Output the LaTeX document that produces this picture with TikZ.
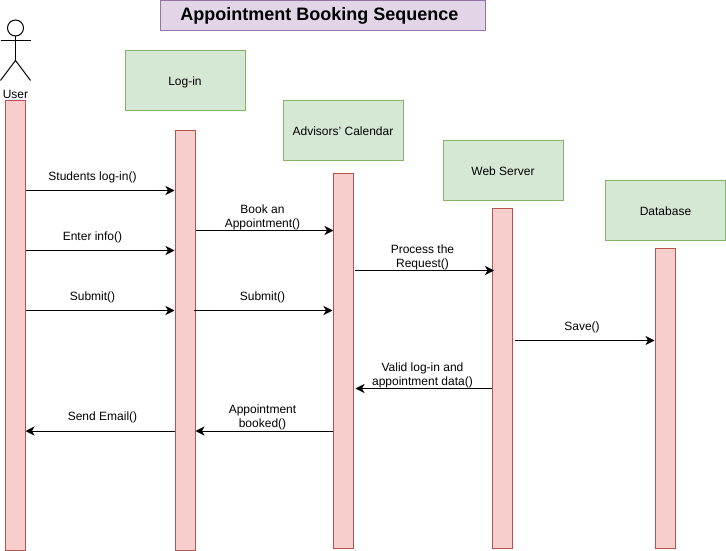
\documentclass[tikz,border=0pt]{standalone}
\usepackage{fontspec}
\setmainfont{Liberation Sans}
\usetikzlibrary{arrows.meta}
\definecolor{boxGreen}{HTML}{D5E8D4}
\definecolor{lineGreen}{HTML}{82B366}
\definecolor{boxRed}{HTML}{F8CECC}
\definecolor{lineRed}{HTML}{B85450}
\definecolor{boxPurple}{HTML}{E1D5E7}
\definecolor{linePurple}{HTML}{9673A6}

\begin{document}
\begin{tikzpicture}
[x=1pt,y=-1pt,line width=1pt,font=\fontsize{12}{14}\selectfont,
  titleDecorate/.style={draw=linePurple,fill=boxPurple,minimum width=325pt,minimum height=30pt,
    inner sep=0pt,text height=14pt,text depth=3pt,font=\fontsize{18}{20}\selectfont\bfseries},
  objectDecorate/.style={draw=lineGreen,fill=boxGreen,minimum width=120pt,minimum height=60pt,
    inner sep=0pt,text height=10pt,text depth=0pt},
  barDecorate/.style={draw=lineRed,fill=boxRed,inner sep=0pt},
  lineDecorate/.style={-{Stealth[length=9pt,width=9pt,inset=2.5pt]}},
  labelDecorate/.style={align=center,inner sep=0pt}]
\useasboundingbox (0,-0.5) rectangle (726,550.5);
%% title
\node (title) at (322.5,15) [titleDecorate] {\hspace*{-6pt}Appointment Booking Sequence};
%% the user
\node (head) at (15.5,27.5) [draw,circle,minimum size=16pt,inner sep=0pt] {};
\coordinate (neck) at (15.5,60);
\coordinate (armLeft) at (0.5,40);
\coordinate (armRight) at (30.5,40);
\coordinate (legLeft) at (0.5,80);
\coordinate (legRight) at (30.5,80);
\draw (head) -- (neck);
\draw (armLeft) -- (armRight);
\draw (legLeft) -- (neck) -- (legRight);
\node (user) at (15.5,94) [labelDecorate] {User};
%% objects
\foreach \nodename/\x/\y/\text in {objLogin/185/80/Log-in, objCalendar/343/130/Advisors' Calendar,
  objServer/503/170/Web Server, objDatabase/665.5/210/Database}
{
  \node (\nodename) at (\x,\y) [objectDecorate] {\text};
}
%% activation bars
\foreach \nodename/\x/\ytop/\ybot in {barUser/15/100/550, barLogin/185/130/550, barCalendar/343/173/548,
  barServer/502.5/208/548, barDatabase/665/248/548}
{
  \node (\nodename) at (\x,{(\ytop+\ybot)/2}) [barDecorate,minimum width=20pt,minimum height={\ybot-\ytop}] {};
}
%% messages
\foreach \startnode/\sx/\endnode/\ex/\y in {barUser.east/0/barLogin.west/0/190, barUser.east/0/barLogin.west/0/250,
  barUser.east/0/barLogin.west/0/310, barLogin.east/0/barCalendar.west/1/230, barLogin.west/19/barCalendar.west/0/310,
  barCalendar.east/1/barServer.west/2/270, barServer.east/2/barDatabase.west/0/340, barServer.west/0/barCalendar.east/2/388,
  barCalendar.west/0/barLogin.east/0/430.5, barLogin.west/0/barUser.east/0/430.5}
{
  \draw[lineDecorate] ([xshift=\sx]\startnode |- 0,\y) -- ([xshift=\ex]\endnode |- 0,\y);
}
%% labels
\foreach \nodename/\x/\y/\text in {lblLogin/92.5/176.5/Students log-in(), lblInfo/92.5/236.5/Enter info(), lblSubmitA/92.5/296.5/Submit(),
  lblBook/262.5/216.5/Book an\\Appointment(), lblSubmitB/262.5/296.5/Submit(), lblProcess/422.5/256.5/Process the\\Request(),
  lblSave/582/326.5/Save(), lblValid/422.5/374.5/Valid log-in and\\appointment data(), lblBooked/262.5/416.5/Appointment\\booked(),
  lblEmail/102.5/416.5/Send Email()}
{
  \node (\nodename) at (\x,\y) [labelDecorate] {\text};
}
\end{tikzpicture}
\end{document}
